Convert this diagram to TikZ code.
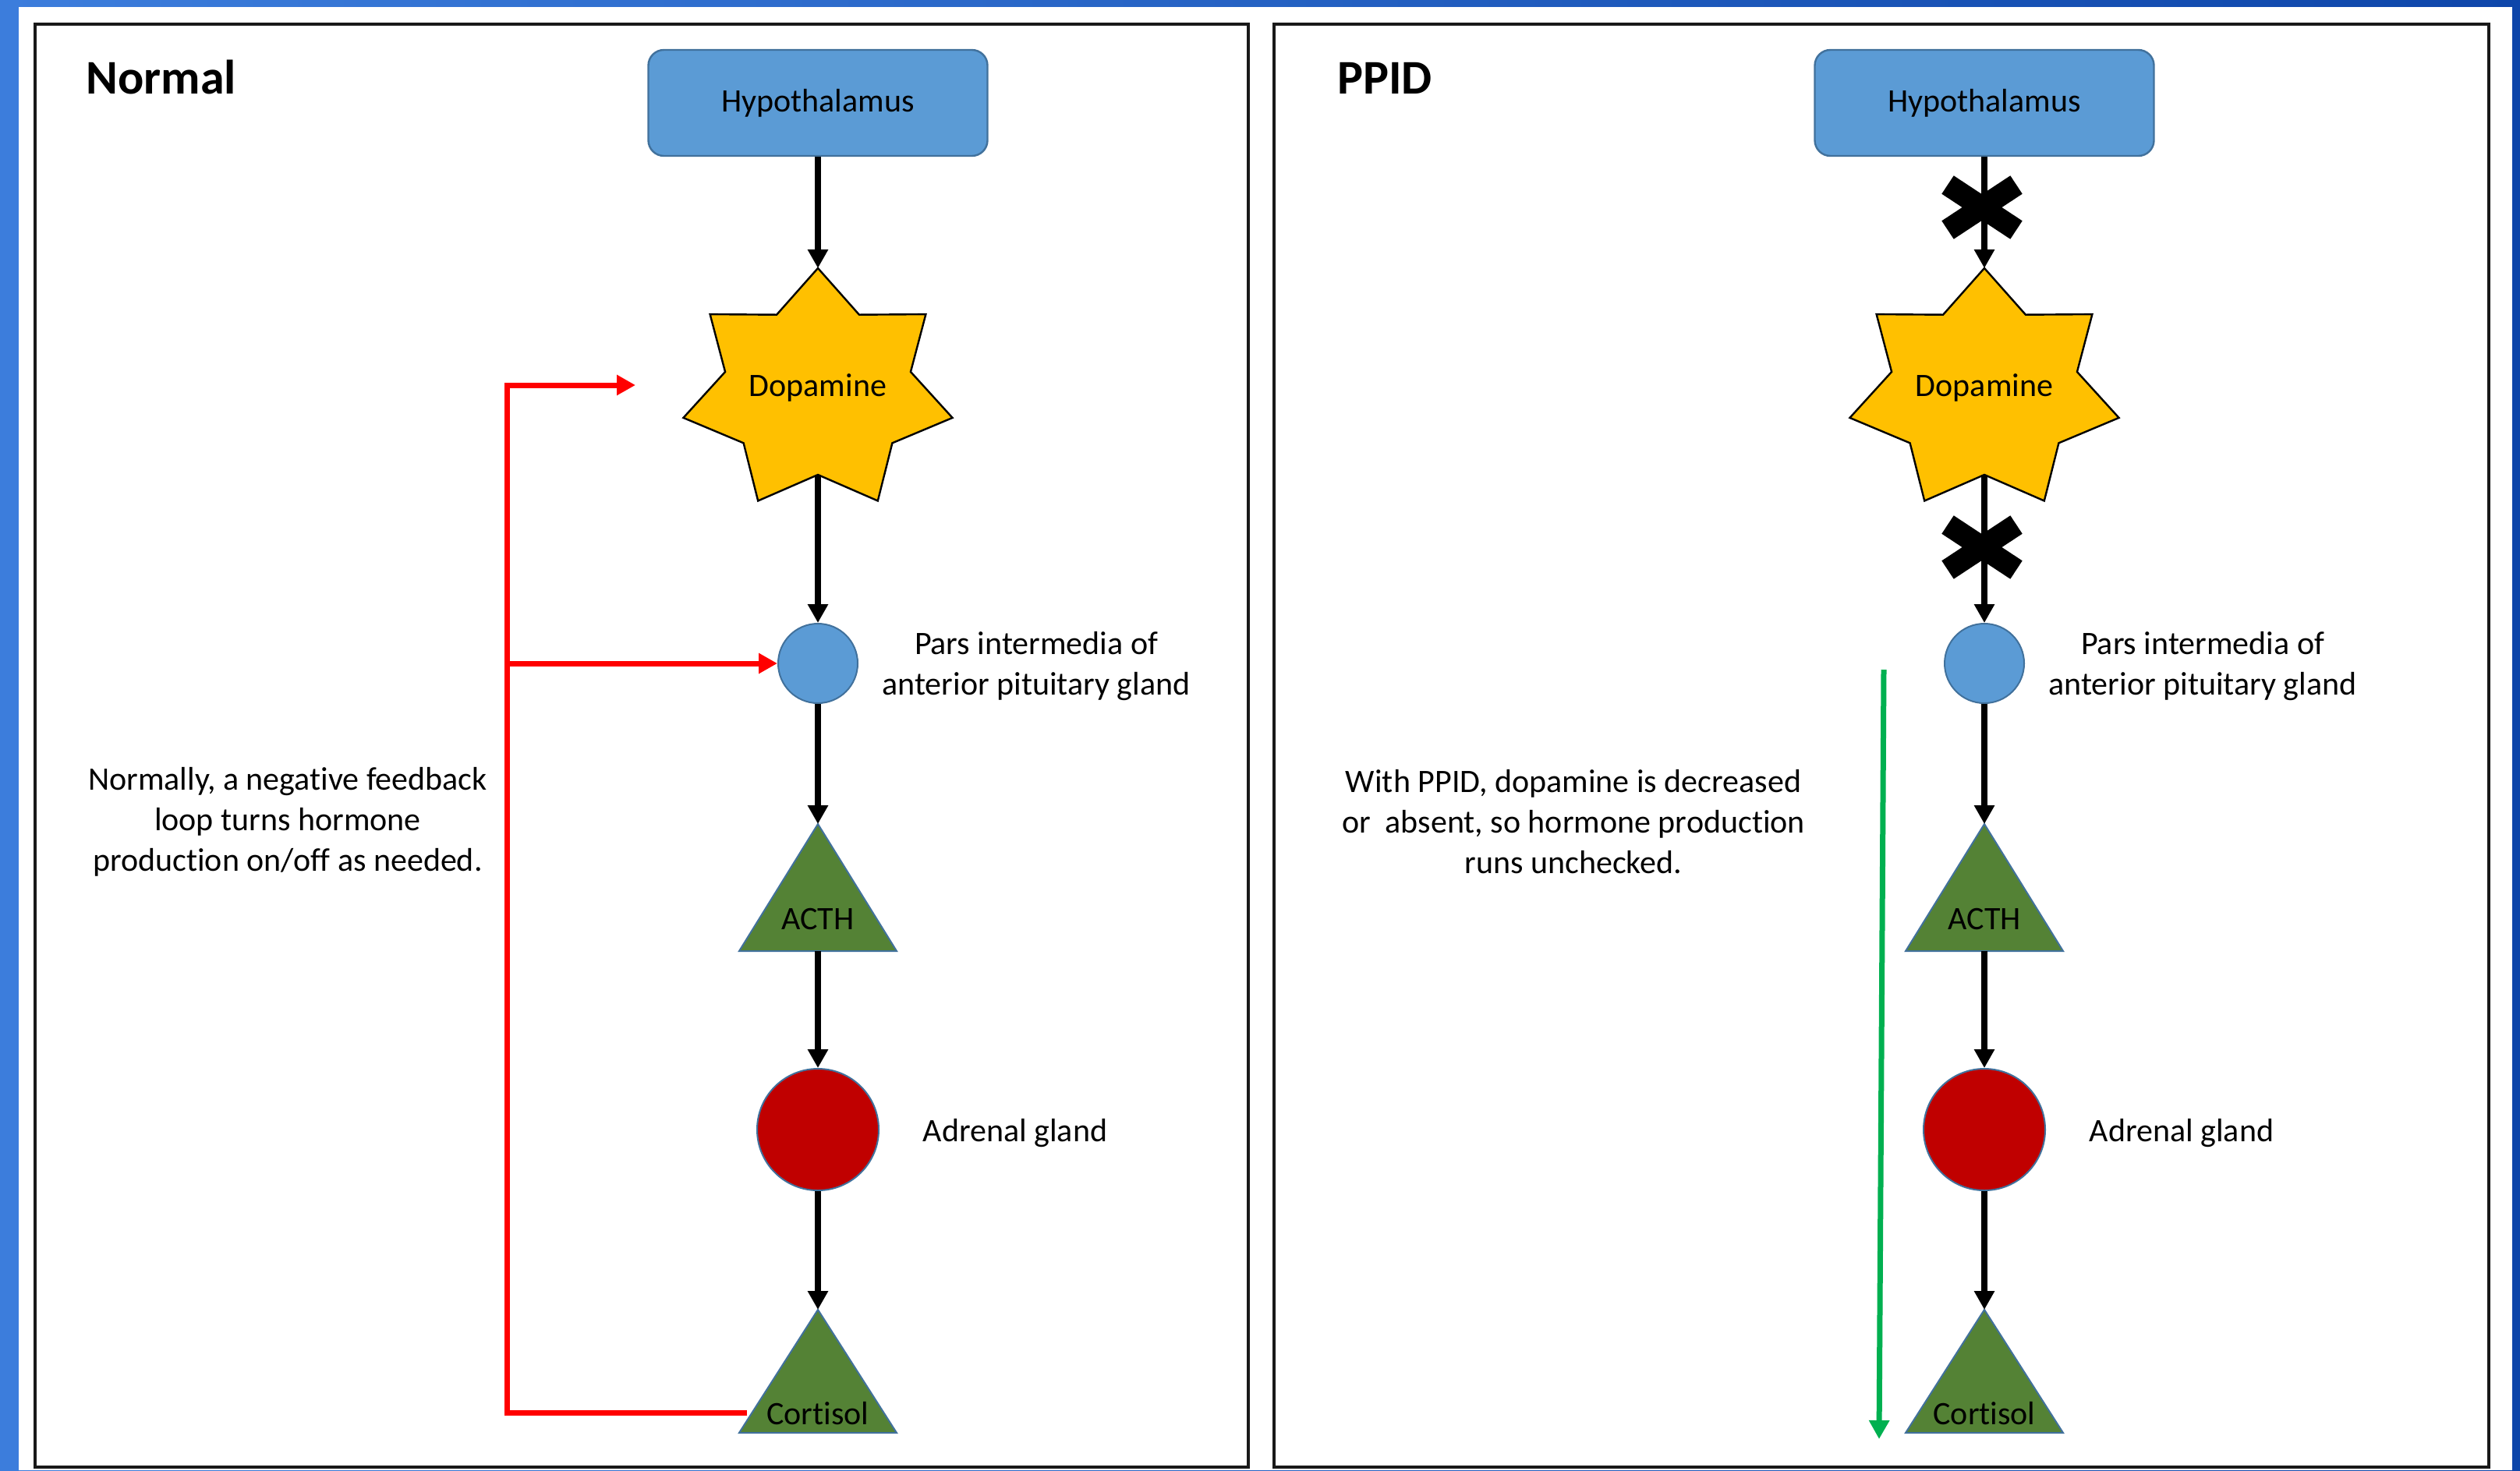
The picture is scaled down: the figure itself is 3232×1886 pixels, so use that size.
\documentclass[tikz,border=0pt]{standalone}
\usepackage{fontspec}
\setmainfont{Carlito}[RawFeature={-liga;-clig;-calt;-dlig}]
\usetikzlibrary{arrows.meta,calc}
\definecolor{hypfill}{HTML}{5B9BD5}
\definecolor{shapeedge}{HTML}{41719C}
\definecolor{dopfill}{HTML}{FFC000}
\definecolor{trifill}{HTML}{548235}
\definecolor{adrfill}{HTML}{C00000}
\definecolor{fbred}{HTML}{FF0000}
\definecolor{pgreen}{HTML}{00B050}
\definecolor{bgleft}{RGB}{60,125,220}
\definecolor{bgright}{RGB}{14,70,170}
\begin{document}
\begin{tikzpicture}[x=0.5pt,y=-0.5pt,
  every node/.style={font=\fontsize{21}{26}\selectfont, inner sep=0pt},
  title/.style={font=\fontsize{31}{36}\selectfont\bfseries, anchor=base west},
  hypbox/.style={draw=shapeedge, line width=1.2pt, fill=hypfill, rounded corners=10pt, minimum width=217.5pt, minimum height=68pt},
  smallcirc/.style={circle, draw=shapeedge, line width=1pt, fill=hypfill, minimum size=51pt},
  bigcirc/.style={circle, draw=shapeedge, line width=1pt, fill=adrfill, minimum size=78pt},
  tri/.style={draw=shapeedge, line width=1pt, fill=trifill},
  starshape/.style={draw=black, line width=1.2pt, fill=dopfill, line join=miter},
  flow/.style={draw=black, line width=3.8pt, -{Triangle[width=12.5pt,length=12pt]}},
  fbarrow/.style={draw=fbred, line width=3.5pt, -{Triangle[width=12.5pt,length=12pt]}},
  grarrow/.style={draw=pgreen, line width=3.5pt, -{Triangle[width=12.5pt,length=12pt]}},
  blockx/.style={draw=black, line width=14pt, line cap=butt},
  panel/.style={draw=black!90, line width=1.6pt},
  note/.style={align=center}
]
% background and panels
\shade[left color=bgleft, right color=bgright] (0,0) rectangle (3232,1886);
\fill[white] (24,9) rectangle (3222,1886);
\draw[panel] (45,31) rectangle (1601,1882);
\draw[panel] (1634,31) rectangle (3192,1882);

\node[title] (tNormal) at (110,120) {Normal};
\node[title] (tPPID) at (1715,120) {PPID};

\foreach \X/\s in {1049/L,2545/R}{
  \node[hypbox] (hyp\s) at (\X,132) {};
  \node[anchor=base] (hypT\s) at (\X,143) {Hypothalamus};
  \filldraw[starshape] (\X,344)
    \foreach \k in {1,...,6}{
      -- ({\X+122*cos(90+(\k-0.5)*360/7)},{501-108*sin(90+(\k-0.5)*360/7)})
      -- ({\X+177*cos(90+\k*360/7)},{501-157*sin(90+\k*360/7)})
    }
    -- ({\X+122*cos(90-0.5*360/7)},{501-108*sin(90-0.5*360/7)}) -- cycle;
  \coordinate (dopTop\s) at (\X,344);
  \coordinate (dopBot\s) at (\X,609);
  \node[anchor=base] (dop\s) at (\X,508) {Dopamine};
  \node[smallcirc] (pars\s) at (\X,851) {};
  \node[note] (parsT\s) at (\X+280,855) {Pars intermedia of\\anterior pituitary gland};
  \filldraw[tri] (\X,1057) -- (\X+101,1220) -- (\X-101,1220) -- cycle;
  \coordinate (acthTop\s) at (\X,1057);
  \coordinate (acthBot\s) at (\X,1220);
  \node[anchor=base] (acth\s) at (\X,1192) {ACTH};
  \node[bigcirc] (adr\s) at (\X,1449) {};
  \node (adrT\s) at (\X+253,1454) {Adrenal gland};
  \filldraw[tri] (\X,1680) -- (\X+101,1838) -- (\X-101,1838) -- cycle;
  \coordinate (cortTop\s) at (\X,1680);
  \node[anchor=base] (cort\s) at (\X,1827) {Cortisol};
  \draw[flow] (hyp\s.south) -- (dopTop\s);
  \draw[flow] (dopBot\s) -- (pars\s.north);
  \draw[flow] (pars\s.south) -- (acthTop\s);
  \draw[flow] (acthBot\s) -- (adr\s.north);
  \draw[flow] (adr\s.south) -- (cortTop\s);
}

% blocks on the PPID side
\foreach \cy in {266,702}{
  \draw[blockx] (2542-44,\cy-29) -- (2542+44,\cy+29);
  \draw[blockx] (2542+44,\cy-29) -- (2542-44,\cy+29);
}

% negative feedback loop
\coordinate (fbStart) at (958,1812);
\coordinate (fbCol) at (650,852);
\coordinate (fbEnd) at (815,494);
\draw[fbarrow] (fbStart) -- (fbStart -| fbCol) -- (fbCol |- fbEnd) -- (fbEnd);
\draw[fbarrow] (fbCol |- parsL) -- (parsL.west);

% unchecked production
\coordinate (gTop) at (2416,859);
\coordinate (gBot) at (2410,1846);
\draw[grarrow] (gTop) -- (gBot);

\node[note] (noteL) at (369,1054) {Normally, a negative feedback\\loop turns hormone\\production on/off as needed.};
\node[note] (noteR) at (2018,1054) {With PPID, dopamine is decreased\\or\ \ absent, so hormone production\\runs unchecked.};
\end{tikzpicture}
\end{document}
